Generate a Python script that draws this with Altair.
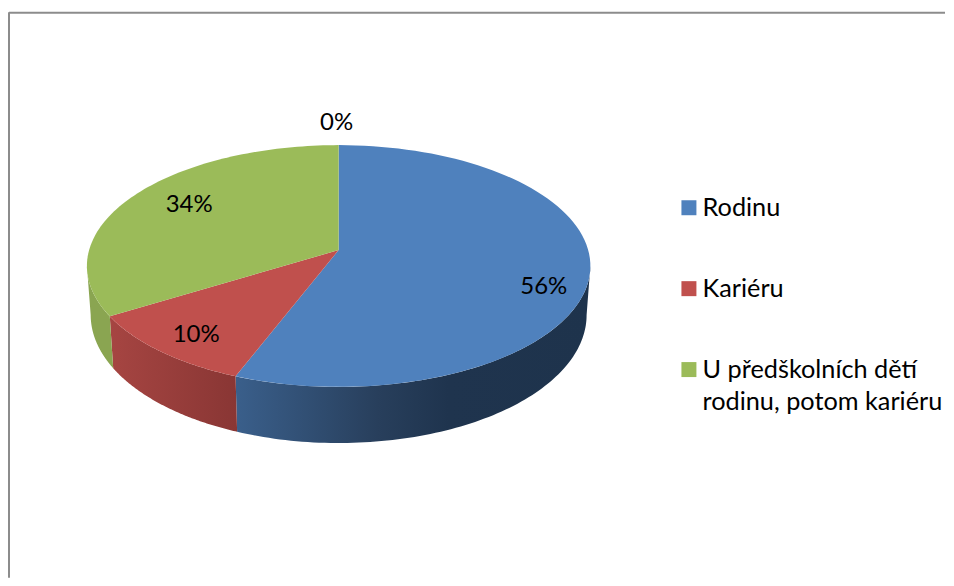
import math
import altair as alt
import pandas as pd

categories = ["Rodinu", "Kariéru", "U předškolních dětí|rodinu, potom kariéru"]
shares = [55.9, 10.4, 33.7]
colors = ["#4F81BD", "#C0504D", "#9BBB59"]
label_nudge = [(5, 19), (-3, 6), (16, -1)]
zero_label = "0%"
FONT = "Lato"

W, H = 938, 570
CX, CY, A, B, K = 331, 242, 249.8, 118.9, 0.132


def top_pt(theta_deg, f=1.0):
    t = math.radians(theta_deg)
    u, v = f * math.sin(t), -f * math.cos(t)
    d = 1 - K * v
    return CX + A * u / d, CY + B * v / d


def low_pt(theta_deg):
    x, y = top_pt(theta_deg)
    return CX + (x - CX) * 0.985, CY + (y - CY) * 1.06 + 48


def samples(a, b, n=90):
    return [a + (b - a) * i / n for i in range(n + 1)]


bounds = [0]
for s in shares:
    bounds.append(bounds[-1] + s * 3.6)

x_scale = alt.Scale(domain=[0, W], range=[0, W])
y_scale = alt.Scale(domain=[H, 0])
X = alt.X("x:Q", scale=x_scale, axis=None)
Y = alt.Y("y:Q", scale=y_scale, axis=None)


def frame(points):
    return pd.DataFrame(
        [{"x": x, "y": y, "i": i} for i, (x, y) in enumerate(points)]
    )


def side(a, b, stops):
    ts = samples(a, b)
    pts = [top_pt(t) for t in ts] + [low_pt(t) for t in reversed(ts)]
    grad = alt.LinearGradient(
        gradient="linear", x1=0, x2=1, y1=0, y2=0,
        stops=[alt.GradientStop(offset=o, color=c) for o, c in stops],
    )
    return alt.Chart(frame(pts)).mark_line(
        fill=grad, strokeOpacity=0, interpolate="linear"
    ).encode(x=X, y=Y, order="i:Q")


sides = [
    side(97.6, bounds[1], [(0, "#3a5f8b"), (0.4, "#283f5c"), (0.6, "#1f344e"), (1, "#1e334c")]),
    side(bounds[1], bounds[2], [(0, "#a64542"), (1, "#893634")]),
    side(bounds[2], 262.4, [(0, "#8aa551"), (1, "#8aa551")]),
]

rows = []
for c, a, b in zip(categories, bounds[:-1], bounds[1:]):
    pts = [(CX, CY)] + [top_pt(t) for t in samples(a, b)] + [(CX, CY)]
    for i, (x, y) in enumerate(pts):
        rows.append({"cat": c, "x": x, "y": y, "i": i})

top = alt.Chart(pd.DataFrame(rows)).mark_line(strokeOpacity=0, interpolate="linear").encode(
    x=X,
    y=Y,
    order="i:Q",
    detail="cat:N",
    fill=alt.Fill(
        "cat:N",
        scale=alt.Scale(domain=categories, range=colors),
        sort=categories,
        legend=alt.Legend(
            title=None,
            orient="none",
            legendX=669,
            legendY=187,
            symbolType="square",
            symbolSize=225,
            symbolStrokeWidth=0,
            symbolOpacity=1,
            labelFont=FONT,
            labelFontSize=25.3,
            labelColor="#000000",
            labelOffset=1,
            labelLimit=300,
            rowPadding=55,
            labelExpr="split(datum.label, '|')",
        ),
    ),
)

labels = []
for s, a, b, (dx, dy) in zip(shares, bounds[:-1], bounds[1:], label_nudge):
    x, y = top_pt((a + b) / 2, 0.8)
    labels.append(
        alt.Chart(pd.DataFrame([{"x": x, "y": y, "t": f"{round(s)}%"}]))
        .mark_text(font=FONT, fontSize=24, color="#000000", dx=dx, dy=dy)
        .encode(x=X, y=Y, text="t:N")
    )
x0, y0 = top_pt(0, 1.1)
labels.append(
    alt.Chart(pd.DataFrame([{"x": x0, "y": y0, "t": zero_label}]))
    .mark_text(font=FONT, fontSize=24, color="#000000", dx=-2, dy=-13)
    .encode(x=X, y=Y, text="t:N")
)

border_top = alt.Chart(pd.DataFrame([{"a": 0}])).mark_rule(color="#8c8c8c", strokeWidth=2).encode(
    x=alt.value(1), x2=alt.value(W), y=alt.value(4.5)
)
border_left = alt.Chart(pd.DataFrame([{"a": 0}])).mark_rule(color="#8c8c8c", strokeWidth=2).encode(
    x=alt.value(1), y=alt.value(4), y2=alt.value(H)
)

chart = alt.layer(border_top, border_left, *sides, top, *labels).properties(
    width=W, height=H, padding=0, background="#ffffff"
).configure(
    style={"guide-label": {"lineHeight": 32}}, view=alt.ViewConfig(stroke=None)
)

chart.save("out.html", embed_options={"renderer": "svg", "actions": False})
